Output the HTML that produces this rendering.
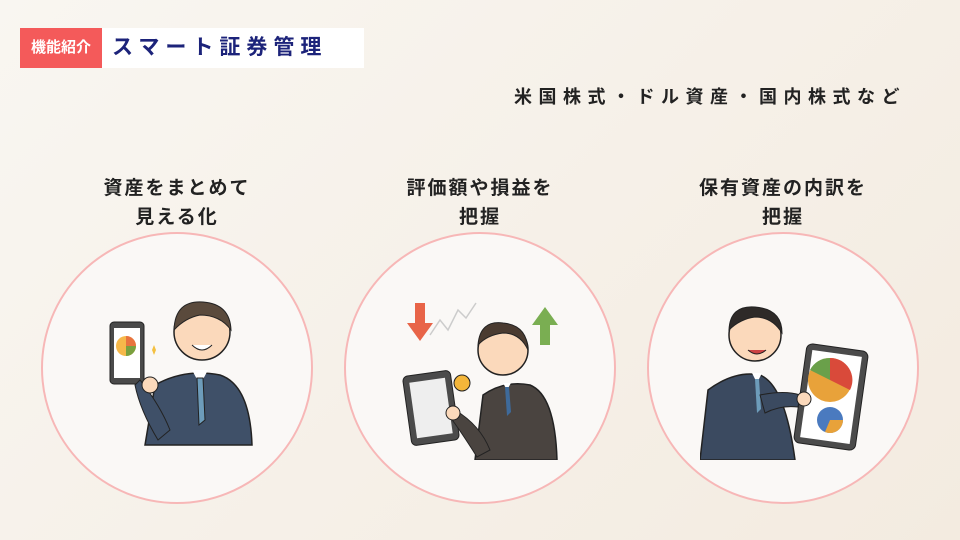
<!DOCTYPE html>
<html><head><meta charset="utf-8"><style>
body{margin:0;width:960px;height:540px;overflow:hidden;background:linear-gradient(135deg,#f9f6f1,#f3ebe0);font-family:"Liberation Sans","Noto Sans CJK JP",sans-serif;position:relative}
.tag{position:absolute;left:20px;top:28px;width:82px;height:40px;background:#f45a5a;color:#fff;font-size:15px;font-weight:bold;line-height:40px;text-align:center}
.title{position:absolute;left:102px;top:28px;width:262px;height:40px;background:#fff;color:#1c237a;font-size:21px;font-weight:bold;line-height:40px;padding-left:10px;box-sizing:border-box;letter-spacing:6px}
.sub{position:absolute;left:514px;top:83px;font-size:18px;font-weight:bold;color:#222;letter-spacing:6.5px}
.h{position:absolute;width:260px;text-align:center;font-size:19px;font-weight:bold;color:#222;line-height:29px;letter-spacing:2px}
.c{position:absolute;width:272px;height:272px;border-radius:50%;border:2px solid #f7b7b7;background:#faf8f6;box-sizing:border-box}
svg{position:absolute}
</style></head><body>
<div class="tag">機能紹介</div>
<div class="title">スマート証券管理</div>
<div class="sub">米国株式・ドル資産・国内株式など</div>
<div class="h" style="left:47px;top:174px">資産をまとめて<br>見える化</div>
<div class="h" style="left:350px;top:174px">評価額や損益を<br>把握</div>
<div class="h" style="left:653px;top:174px">保有資産の内訳を<br>把握</div>
<div class="c" style="left:41px;top:232px"></div>
<div class="c" style="left:344px;top:232px"></div>
<div class="c" style="left:647px;top:232px"></div>
<!-- person 1 -->
<svg style="left:100px;top:290px" width="160" height="160" viewBox="0 0 160 160">
<path d="M45 155 L55 95 Q85 78 120 85 Q150 95 152 155Z" fill="#3f5068" stroke="#222" stroke-width="1.5"/>
<path d="M92 80 L100 95 L108 80Z" fill="#fff"/><path d="M97 88 L103 88 L105 130 L99 135Z" fill="#6d9cba" stroke="#222"/>
<circle cx="102" cy="42" r="28" fill="#fbd9bb" stroke="#222" stroke-width="1.5"/>
<path d="M74 40 Q75 10 103 12 Q130 14 131 40 Q120 25 100 25 Q85 28 74 40Z" fill="#5a4a3c" stroke="#222"/>
<path d="M92 55 Q102 65 112 55" fill="#fff" stroke="#222"/>
<rect x="10" y="32" width="34" height="62" rx="4" fill="#4a4a4a" stroke="#222"/>
<rect x="14" y="38" width="26" height="50" fill="#fff"/>
<circle cx="26" cy="56" r="10" fill="#f6b84a"/><path d="M26 56 L26 46 A10 10 0 0 1 36 56Z" fill="#e8733f"/><path d="M26 56 L36 56 A10 10 0 0 1 26 66Z" fill="#7aa03f"/>
<path d="M40 90 Q60 115 70 140 L58 150 Q40 120 35 95Z" fill="#3f5068" stroke="#222"/>
<circle cx="50" cy="95" r="8" fill="#fbd9bb" stroke="#222"/>
<path d="M52 60 l2 -5 l2 5 l-2 5z" fill="#f4c040"/>
</svg>
<!-- person 2 -->
<svg style="left:395px;top:295px" width="170" height="165" viewBox="0 0 170 165">
<path d="M20 8 v20 h-8 l13 18 l13 -18 h-8 v-20z" fill="#e86448"/>
<path d="M155 50 v-20 h8 l-13 -18 l-13 18 h8 v20z" fill="#7aae52"/>
<path d="M35 40 l10 -15 l8 10 l10 -20 l8 8 l10 -15" fill="none" stroke="#ccc" stroke-width="1.5"/>
<path d="M80 165 L88 100 Q110 85 135 90 Q160 100 162 165Z" fill="#4a4440" stroke="#222" stroke-width="1.5"/>
<path d="M108 88 L112 95 L116 88Z" fill="#fff"/><path d="M110 92 l4 0 l2 25 l-4 4z" fill="#3e6a9a"/>
<circle cx="108" cy="55" r="25" fill="#fbd9bb" stroke="#222" stroke-width="1.5"/>
<path d="M83 50 Q85 25 108 28 Q132 30 133 55 Q125 38 108 38 Q92 40 83 50Z" fill="#4a3b30" stroke="#222"/>
<circle cx="67" cy="88" r="8" fill="#f4b63a" stroke="#222"/>
<rect x="12" y="78" width="48" height="70" rx="5" transform="rotate(-8 36 113)" fill="#4b4b4b" stroke="#222"/>
<rect x="18" y="85" width="36" height="56" transform="rotate(-8 36 113)" fill="#eee"/>
<path d="M60 115 Q85 130 95 155 L82 162 Q65 135 55 122Z" fill="#4a4440" stroke="#222"/>
<circle cx="58" cy="118" r="7" fill="#fbd9bb" stroke="#222"/>
</svg>
<!-- person 3 -->
<svg style="left:700px;top:295px" width="170" height="165" viewBox="0 0 170 165">
<path d="M0 165 L8 95 Q35 75 60 80 Q85 90 95 165Z" fill="#3b4a60" stroke="#222" stroke-width="1.5"/>
<path d="M52 78 L57 88 L62 78Z" fill="#fff"/><path d="M55 84 l4 0 l2 30 l-4 4z" fill="#6d9cba"/>
<circle cx="55" cy="40" r="26" fill="#fbd9bb" stroke="#222" stroke-width="1.5"/>
<path d="M29 35 Q30 10 55 12 Q82 14 82 38 Q72 22 55 22 Q40 24 29 35Z" fill="#2e2a28" stroke="#222"/>
<path d="M48 55 Q57 63 66 55" fill="#c44" stroke="#222"/>
<rect x="100" y="52" width="62" height="100" rx="6" transform="rotate(8 131 102)" fill="#4b4b4b" stroke="#222"/>
<rect x="106" y="58" width="50" height="88" transform="rotate(8 131 102)" fill="#fff"/>
<circle cx="130" cy="85" r="22" fill="#e8a23a"/><path d="M130 85 L130 63 A22 22 0 0 1 150 95Z" fill="#d94a3a"/><path d="M130 85 L110 75 A22 22 0 0 1 130 63Z" fill="#6aa04a"/>
<circle cx="130" cy="125" r="13" fill="#4a7abf"/><path d="M130 125 L143 125 A13 13 0 0 1 125 137Z" fill="#e8a23a"/>
<path d="M60 100 Q85 95 100 100 L98 112 Q80 110 65 118Z" fill="#3b4a60" stroke="#222"/>
<circle cx="104" cy="104" r="7" fill="#fbd9bb" stroke="#222"/>
</svg>
</body></html>
